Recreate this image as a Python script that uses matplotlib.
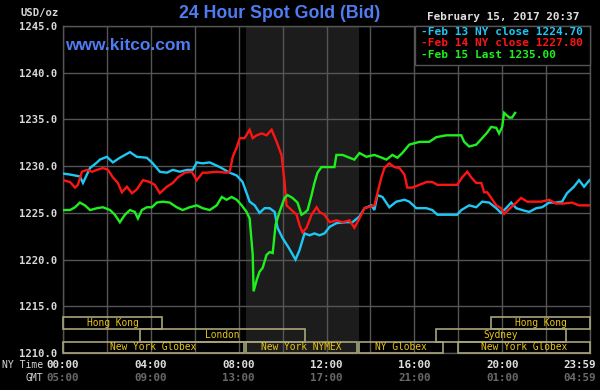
import matplotlib
matplotlib.use("Agg")
import matplotlib.pyplot as plt
from matplotlib.patches import Rectangle
import matplotlib.transforms as mtransforms

# ---------------- data ----------------
feb13_t = [0.00, 0.32, 0.77, 0.91, 1.23, 1.55, 1.68, 2.00, 2.27, 2.59, 3.05, 3.36, 3.82, 4.09, 4.41,
           4.73, 5.00, 5.32, 5.64, 5.91, 6.09, 6.36, 6.68, 7.14, 7.59, 7.91, 8.18, 8.50, 8.73, 8.95,
           9.18, 9.41, 9.64, 9.77, 10.00, 10.27, 10.59, 10.77, 11.00, 11.23, 11.45, 11.68, 11.91,
           12.14, 12.45, 12.91, 13.18, 13.50, 13.73, 14.05, 14.18, 14.32, 14.55, 14.86, 15.18, 15.55,
           15.77, 16.09, 16.55, 16.82, 17.05, 17.45, 17.95, 18.14, 18.50, 18.82, 19.09, 19.41, 19.73,
           19.95, 20.18, 20.41, 20.64, 20.91, 21.23, 21.55, 21.82, 22.14, 22.45, 22.73, 22.95, 23.27,
           23.50, 23.73, 23.98]
feb13_p = [1229.2, 1229.1, 1228.9, 1228.2, 1229.8, 1230.4, 1230.7, 1231.0, 1230.4, 1230.9, 1231.5,
           1231.0, 1230.9, 1230.3, 1229.4, 1229.3, 1229.6, 1229.4, 1229.6, 1229.6, 1230.4, 1230.3,
           1230.4, 1229.9, 1229.3, 1229.0, 1228.3, 1226.2, 1225.8, 1225.0, 1225.5, 1225.5, 1225.1,
           1223.4, 1222.3, 1221.3, 1220.0, 1221.0, 1222.8, 1222.6, 1222.8, 1222.6, 1222.8, 1223.5,
           1223.9, 1224.0, 1224.0, 1224.6, 1225.5, 1225.8, 1225.3, 1226.9, 1226.7, 1225.6, 1226.2,
           1226.4, 1226.2, 1225.5, 1225.5, 1225.3, 1224.8, 1224.8, 1224.8, 1225.3, 1225.8, 1225.6,
           1226.2, 1226.1, 1225.5, 1225.0, 1225.5, 1226.1, 1225.5, 1225.3, 1225.1, 1225.5, 1225.6,
           1226.1, 1226.1, 1226.2, 1227.1, 1227.8, 1228.5, 1227.8, 1228.5]

feb14_t = [0.00, 0.32, 0.55, 0.68, 0.86, 1.09, 1.32, 1.55, 1.82, 2.05, 2.27, 2.50, 2.68, 2.91, 3.14,
           3.36, 3.64, 3.95, 4.18, 4.41, 4.73, 5.00, 5.23, 5.55, 5.86, 6.09, 6.36, 6.55, 7.00, 7.45,
           7.59, 7.73, 7.91, 8.05, 8.27, 8.50, 8.64, 8.82, 9.05, 9.27, 9.50, 9.73, 9.95, 10.09, 10.18,
           10.41, 10.64, 10.77, 10.91, 11.09, 11.32, 11.55, 11.68, 11.91, 12.14, 12.45, 12.73, 13.05,
           13.27, 13.50, 13.73, 14.18, 14.32, 14.50, 14.64, 14.86, 15.09, 15.32, 15.55, 15.68, 15.91,
           16.23, 16.55, 16.82, 17.05, 17.45, 17.95, 18.18, 18.41, 18.59, 18.82, 19.05, 19.18, 19.32,
           19.50, 19.73, 19.95, 20.09, 20.41, 20.64, 20.86, 21.14, 21.45, 21.77, 22.14, 22.45, 22.82,
           23.18, 23.50, 23.98]
feb14_p = [1228.5, 1228.3, 1227.7, 1228.0, 1229.4, 1229.6, 1229.4, 1229.6, 1229.8, 1229.6, 1228.8,
           1228.2, 1227.2, 1227.8, 1227.1, 1227.5, 1228.5, 1228.3, 1228.0, 1227.1, 1227.8, 1228.2,
           1228.8, 1229.3, 1229.4, 1228.5, 1229.3, 1229.3, 1229.4, 1229.3, 1229.4, 1231.0, 1232.0,
           1233.0, 1233.0, 1233.9, 1233.0, 1233.3, 1233.5, 1233.3, 1233.9, 1232.6, 1231.2, 1228.3,
           1225.8, 1225.3, 1224.8, 1223.7, 1222.9, 1223.4, 1224.8, 1225.6, 1225.1, 1224.8, 1224.0,
           1224.2, 1224.0, 1224.2, 1223.4, 1224.4, 1225.5, 1225.8, 1227.1, 1228.8, 1229.8, 1230.3,
           1229.9, 1229.8, 1229.1, 1227.7, 1227.7, 1228.0, 1228.3, 1228.3, 1228.0, 1228.0, 1228.0,
           1228.8, 1229.4, 1228.8, 1228.2, 1228.2, 1227.2, 1227.2, 1226.6, 1225.8, 1225.5, 1224.9,
           1225.6, 1226.1, 1226.6, 1226.2, 1226.2, 1226.2, 1226.4, 1226.0, 1226.0, 1226.1, 1225.8,
           1225.8]

feb15_t = [0.00, 0.32, 0.55, 0.77, 1.00, 1.23, 1.55, 1.82, 2.14, 2.36, 2.59, 2.82, 3.05, 3.27, 3.41,
           3.59, 3.82, 4.05, 4.27, 4.55, 4.86, 5.18, 5.45, 5.77, 6.09, 6.36, 6.68, 7.00, 7.23, 7.45,
           7.68, 7.91, 8.14, 8.36, 8.50, 8.64, 8.68, 8.82, 8.95, 9.09, 9.27, 9.41, 9.55, 9.68, 9.86,
           10.09, 10.23, 10.45, 10.68, 10.86, 11.00, 11.14, 11.32, 11.45, 11.59, 11.77, 12.00, 12.36,
           12.45, 12.73, 13.05, 13.27, 13.50, 13.82, 14.18, 14.41, 14.73, 15.00, 15.23, 15.45, 15.77,
           16.23, 16.68, 17.00, 17.45, 17.95, 18.14, 18.27, 18.50, 18.82, 19.09, 19.32, 19.50, 19.73,
           19.86, 20.00, 20.09, 20.32, 20.45, 20.59]
feb15_p = [1225.3, 1225.3, 1225.6, 1226.1, 1225.8, 1225.3, 1225.5, 1225.6, 1225.3, 1224.8, 1224.0,
           1224.8, 1225.3, 1225.1, 1224.4, 1225.3, 1225.6, 1225.6, 1226.1, 1226.2, 1226.1, 1225.6,
           1225.3, 1225.6, 1225.8, 1225.5, 1225.3, 1225.8, 1226.7, 1226.4, 1226.7, 1226.4, 1225.8,
           1225.1, 1224.4, 1220.5, 1216.6, 1217.8, 1218.7, 1219.1, 1220.5, 1220.8, 1220.7, 1223.7,
           1225.1, 1226.6, 1226.9, 1226.6, 1226.1, 1224.8, 1225.0, 1225.3, 1226.9, 1228.2, 1229.3,
           1229.9, 1229.9, 1229.9, 1231.2, 1231.2, 1230.9, 1230.7, 1231.4, 1231.0, 1231.2, 1231.0,
           1230.7, 1231.2, 1230.9, 1231.4, 1232.3, 1232.6, 1232.6, 1233.1, 1233.3, 1233.3, 1233.3,
           1232.6, 1232.1, 1232.3, 1233.0, 1233.6, 1234.2, 1234.1, 1233.5, 1234.2, 1235.7, 1235.2,
           1235.2, 1235.7]

legend_labels = ["-Feb 13 NY close 1224.70", "-Feb 14 NY close 1227.80", "-Feb 15 Last 1235.00"]

y_ticks = [1210, 1215, 1220, 1225, 1230, 1235, 1240, 1245]
ny_ticks = [0, 4, 8, 12, 16, 20, 23.983]
ny_labels = ["00:00", "04:00", "08:00", "12:00", "16:00", "20:00", "23:59"]
gmt_labels = ["05:00", "09:00", "13:00", "17:00", "21:00", "01:00", "04:59"]

# NYMEX highlighted hours
nymex_start, nymex_end = 8.33, 13.5

# trading sessions: name, start hour, end hour, row (0 = top)
session_names = ["Hong Kong", "Hong Kong", "London", "Sydney",
                 "New York Globex", "New York NYMEX", "NY Globex", "New York Globex"]
session_start = [0.0, 19.5, 3.5, 17.0, 0.0, 8.33, 13.5, 18.0]
session_end = [4.5, 24.0, 11.0, 22.9, 8.25, 13.4, 17.3, 24.0]
session_row = [0, 0, 1, 1, 2, 2, 2, 2]

# ---------------- style ----------------
BG = "#000000"
GRID = "#555555"
MONO = ["DejaVu Sans Mono"]
SANS = ["Liberation Sans"]

fig = plt.figure(figsize=(6.0, 3.9), dpi=100, facecolor=BG)
W, H = 600.0, 390.0
ax = fig.add_axes([63 / W, 1 - 353 / H, 527 / W, 327 / H])
ax.set_facecolor(BG)
ax.set_xlim(0, 24)
ax.set_ylim(1210, 1245)

# shaded NYMEX period
ax.axvspan(nymex_start, nymex_end, color="#1c1c1c", zorder=0, lw=0)

# grid
for h in range(0, 25, 2):
    ax.axvline(h, color=GRID, lw=1.0, zorder=1)
for y in y_ticks:
    ax.axhline(y, color=GRID, lw=1.0, zorder=1)
for s in ax.spines.values():
    s.set_color(GRID)
    s.set_linewidth(1.0)

# series
ax.plot(feb13_t, feb13_p, color="#1ec8f5", lw=1.7, zorder=3, solid_joinstyle="miter")
ax.plot(feb14_t, feb14_p, color="#ff1414", lw=1.7, zorder=4, solid_joinstyle="miter")
ax.plot(feb15_t, feb15_p, color="#1ef01e", lw=1.7, zorder=5, solid_joinstyle="miter")

# y ticks
ax.set_yticks(y_ticks)
ax.set_yticklabels([f"{v:.1f}" for v in y_ticks], family=MONO, fontsize=7.6,
                   color="#d8d8d8", fontweight="bold")
ax.tick_params(axis="y", length=0, pad=4)
ax.set_xticks([])

# sessions
trans = mtransforms.blended_transform_factory(ax.transData, ax.transAxes)
row_bounds = [(36 / 327, 24 / 327), (24 / 327, 11 / 327), (11 / 327, 0.0)]
for name, s0, s1, r in zip(session_names, session_start, session_end, session_row):
    top, bot = row_bounds[r]
    rect = Rectangle((s0, bot), s1 - s0, top - bot, transform=trans, fill=False,
                     edgecolor="#a8a47a", lw=1.2, zorder=6, clip_on=False)
    ax.add_patch(rect)
    ax.text((s0 + s1) / 2, (top + bot) / 2, name, transform=trans, ha="center", va="center",
            family=MONO, fontsize=6.9, color="#e8c41a", zorder=7)

# x labels (NY time and GMT)
for t, lab, glab in zip(ny_ticks, ny_labels, gmt_labels):
    ha = "center"
    dx = 0
    if lab == "23:59":
        ha = "right"
        dx = 6
    off = mtransforms.offset_copy(trans, fig=fig, x=dx, y=0, units="dots")
    ax.text(t, -12 / 327, lab, transform=off, ha=ha, va="center", family=MONO,
            fontsize=7.8, color="#e0e0e0", fontweight="bold")
    ax.text(t, -25 / 327, glab, transform=off, ha=ha, va="center", family=MONO,
            fontsize=7.8, color="#6a6a6a", fontweight="bold")

fig.text(43 / W, 1 - 365 / H, "NY Time", ha="right", va="center", family=MONO,
         fontsize=7.0, color="#d8d8d8")
fig.text(43 / W, 1 - 378 / H, "GMT", ha="right", va="center", family=MONO,
         fontsize=7.0, color="#d8d8d8")

# top texts
fig.text(59 / W, 1 - 13 / H, "USD/oz", ha="right", va="center", family=MONO,
         fontsize=7.6, color="#d8d8d8", fontweight="bold")
fig.text(280 / W, 1 - 14 / H, "24 Hour Spot Gold (Bid)", ha="center", va="center",
         family=SANS, fontsize=12.8, fontweight="bold", color="#4f7cf0")
fig.text(579 / W, 1 - 17 / H, "February 15, 2017 20:37", ha="right", va="center",
         family=MONO, fontsize=7.9, color="#e0e0e0", fontweight="bold")
ax.text(65 / W, 1 - 46 / H, "www.kitco.com", transform=fig.transFigure, ha="left",
        va="center", family=SANS, fontsize=12.5, fontweight="bold", color="#4f7cf0", zorder=8)

# legend box
lg = Rectangle((415 / W, 1 - 65 / H), (590 - 415) / W, 39 / H, transform=fig.transFigure,
               facecolor=BG, edgecolor=GRID, lw=1.0, zorder=9)
fig.patches.append(lg)
leg_colors = ["#1ec8f5", "#ff1414", "#1ef01e"]
for i, (lab, c) in enumerate(zip(legend_labels, leg_colors)):
    fig.text(421 / W, 1 - (32 + 11.5 * i) / H, lab, ha="left", va="center", family=MONO,
             fontsize=8.0, color=c, fontweight="bold", zorder=10)

fig.savefig("out.png", dpi=100, facecolor=BG)
